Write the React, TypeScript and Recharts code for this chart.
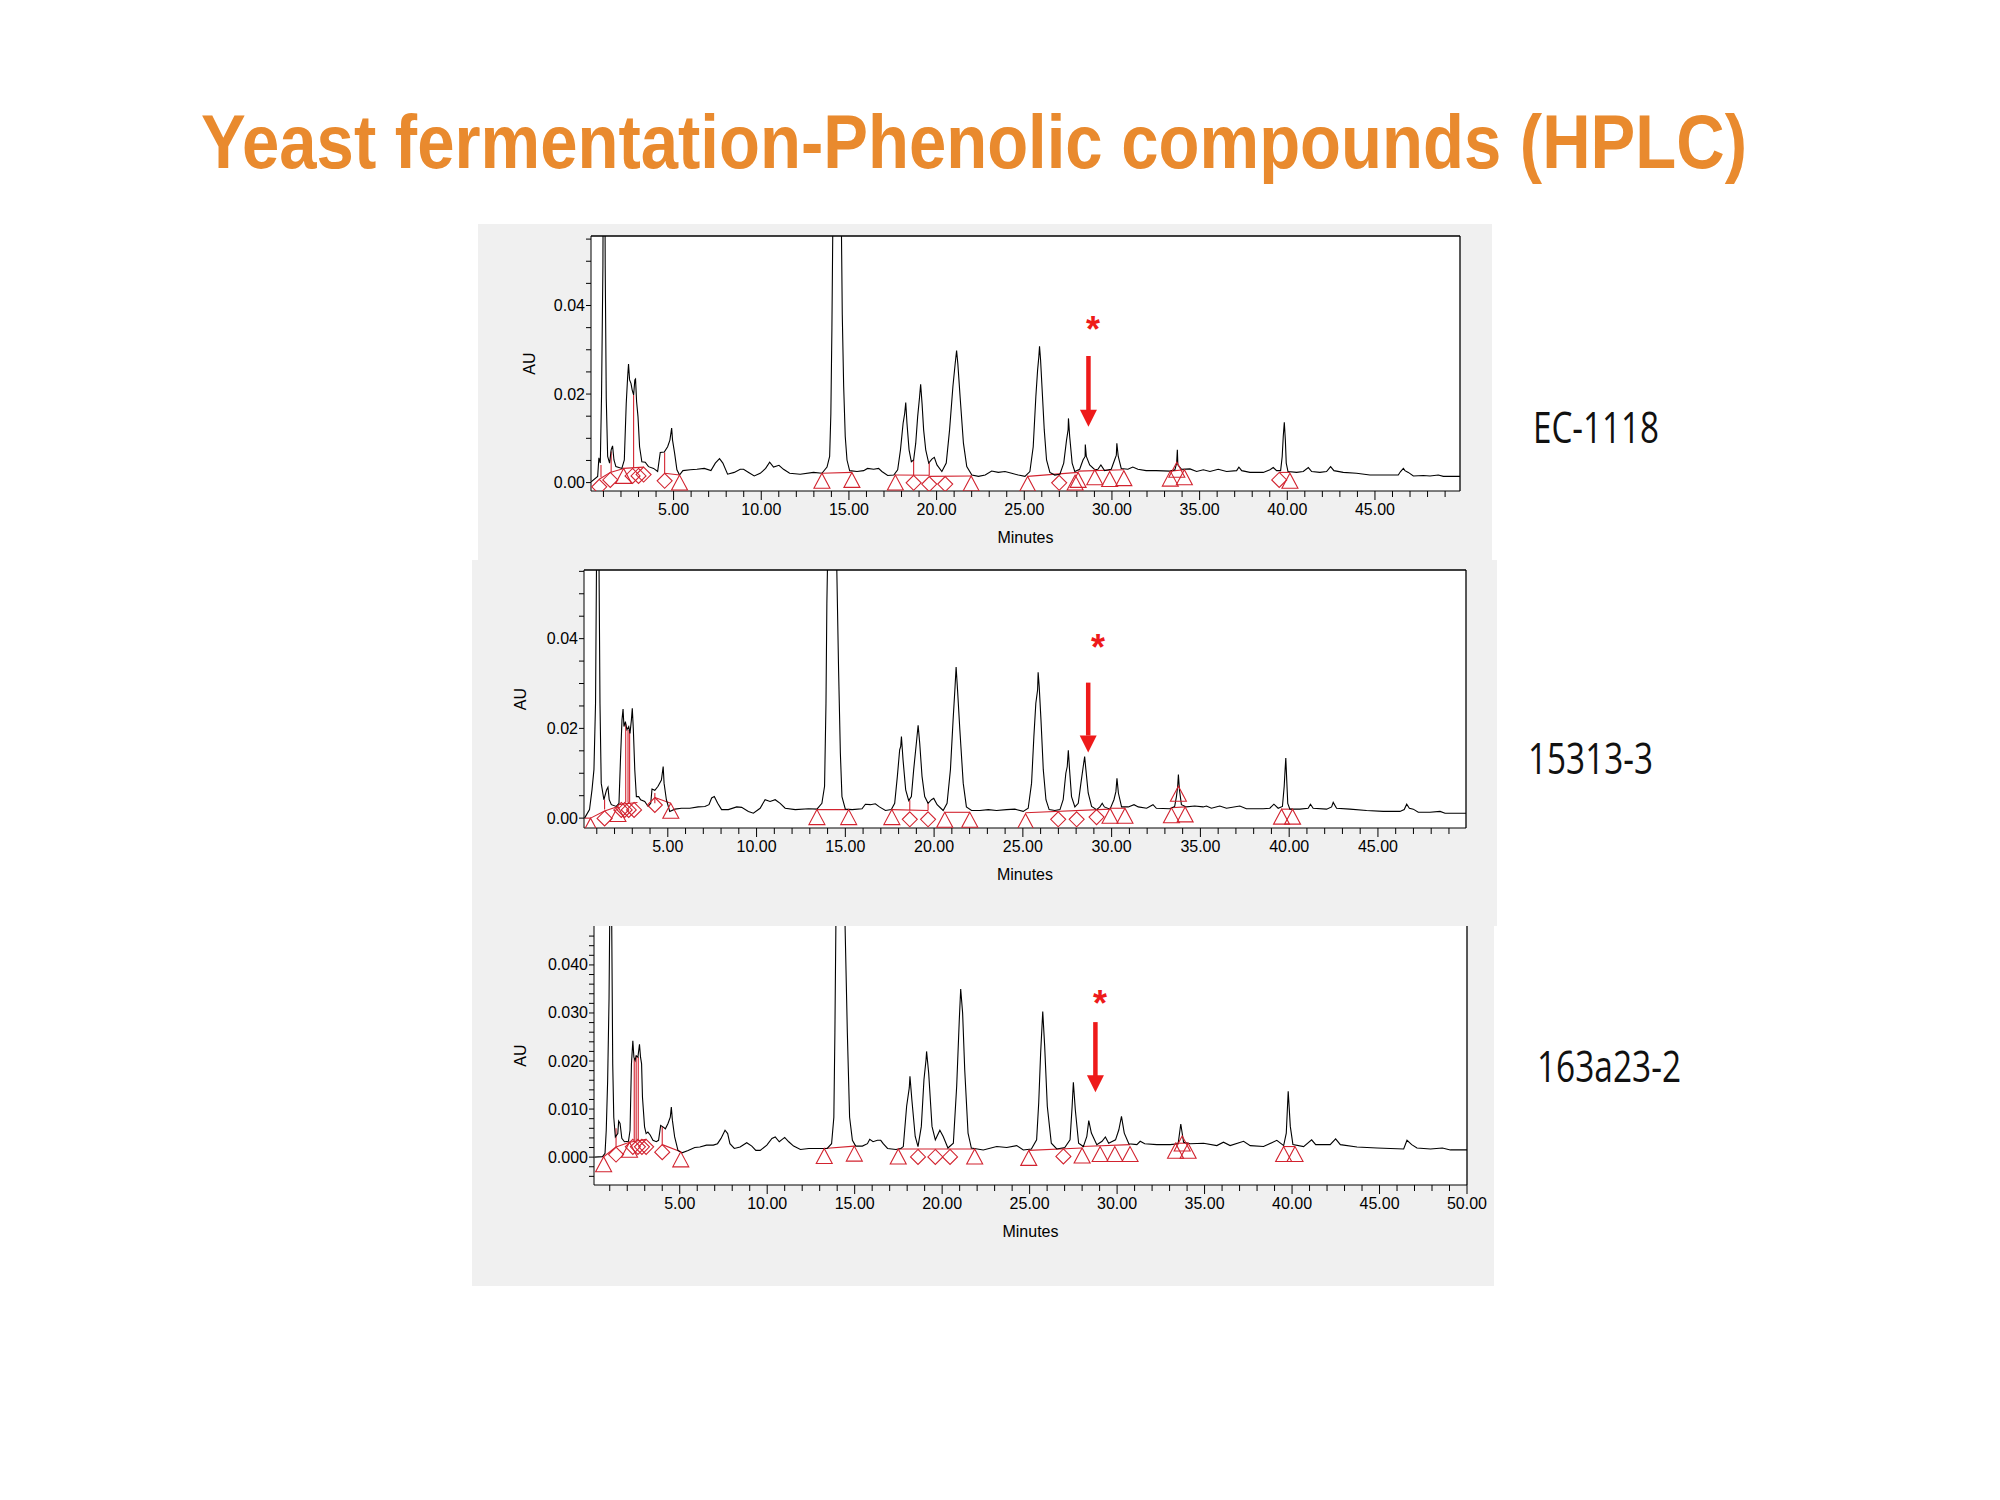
import React from 'react';
import { ComposedChart, Line, Scatter, XAxis, YAxis, ReferenceLine, CartesianGrid } from 'recharts';

type Pt = [number, number];
type Seg = [number, number, number, number];
type Drop = [number, number, number];

// values are [minutes, mAU]; the axes show AU (mAU / 1000)

// ---- EC-1118 ----
const ecTrace: Pt[] = [
  [0.3, 0.2], [0.67, 1.4], [0.74, 5.6], [0.82, 4.4], [0.89, 19.4], [0.97, 49], [1.03, 120], [1.1, 49], [1.16, 19], [1.24, 5.9],
  [1.35, 4.4], [1.44, 7.4], [1.52, 8.3], [1.6, 5.1], [1.71, 3.6], [2.05, 3.2], [2.19, 5.1], [2.3, 17.9], [2.38, 23.9], [2.43, 26.8],
  [2.49, 23.2], [2.57, 22.4], [2.64, 20.9], [2.72, 19.8], [2.79, 23.2], [2.83, 23.4], [2.89, 18.3], [2.97, 14.9], [3.06, 8.1], [3.19, 4.7],
  [3.38, 4.6], [3.57, 3.6], [3.86, 3.2], [4.09, 2.5], [4.24, 6.8], [4.47, 6.9], [4.66, 8.1], [4.79, 9.6], [4.89, 12.3], [4.94, 9.6],
  [5.06, 6.6], [5.19, 2.9], [5.34, 1.7], [5.53, 2.7], [5.95, 2.9], [6.33, 3.0], [6.75, 3.2], [7.13, 2.7], [7.38, 4.4], [7.62, 5.4],
  [7.81, 4.4], [8.08, 1.9], [8.46, 2.3], [8.8, 3.0], [8.99, 3.0], [9.28, 2.3], [9.6, 1.5], [9.94, 2.1], [10.25, 3.2], [10.48, 4.6],
  [10.7, 3.5], [11.01, 3.9], [11.27, 3.0], [11.62, 2.1], [12.22, 1.9], [12.98, 2.3], [13.46, 2.1], [13.75, 3.5], [13.9, 5.9], [13.97, 15.6],
  [14.03, 35], [14.09, 62], [14.32, 130], [14.56, 62], [14.62, 38], [14.7, 21.7], [14.79, 10.4], [14.89, 5.1], [15.04, 2.7], [15.46, 2.5],
  [15.84, 2.7], [16.06, 3.2], [16.41, 3.0], [16.69, 3.2], [16.88, 2.5], [17.21, 1.6], [17.56, 1.7], [17.78, 2.9], [17.94, 7.4], [18.09, 13.4],
  [18.18, 15.6], [18.24, 18.1], [18.31, 13.4], [18.43, 7.4], [18.56, 4.7], [18.69, 5.1], [18.81, 8.9], [18.92, 14.9], [19.03, 19.4], [19.09, 22.2],
  [19.17, 17.9], [19.26, 11.9], [19.38, 7.4], [19.55, 4.4], [19.73, 5.3], [19.87, 5.7], [20.02, 4.0], [20.3, 2.5], [20.55, 4.4], [20.74, 11.9],
  [20.93, 21.7], [21.06, 26.9], [21.14, 29.8], [21.21, 26.9], [21.34, 19.4], [21.53, 8.9], [21.72, 3.6], [22.01, 1.7], [22.39, 1.4], [22.77, 1.7],
  [23.14, 2.6], [23.52, 2.3], [23.9, 2.5], [24.28, 2.1], [24.66, 1.7], [25.04, 1.4], [25.32, 2.5], [25.51, 8.1], [25.66, 19.4], [25.76, 25.4],
  [25.83, 28.4], [25.87, 30.8], [25.93, 27.7], [26.02, 20.9], [26.14, 11.9], [26.27, 5.1], [26.46, 2.3], [26.74, 1.7], [27.03, 1.9], [27.25, 4.4],
  [27.41, 9.6], [27.5, 11.9], [27.52, 14.5], [27.59, 10.4], [27.73, 4.4], [27.88, 2.5], [28.16, 3.0], [28.35, 5.1], [28.47, 5.9], [28.48, 8.6],
  [28.54, 5.9], [28.73, 4.0], [29.02, 2.9], [29.2, 3.0], [29.37, 4.0], [29.58, 2.7], [29.96, 3.0], [30.15, 5.1], [30.25, 6.2], [30.28, 8.9],
  [30.36, 5.9], [30.53, 3.2], [30.91, 3.0], [31.19, 3.5], [31.48, 3.0], [31.95, 2.7], [32.52, 2.7], [33.31, 2.6], [33.59, 2.9], [33.69, 4.4],
  [33.73, 7.4], [33.76, 4.0], [33.97, 3.0], [34.45, 3.1], [34.83, 2.5], [35.21, 2.9], [35.59, 2.5], [36.06, 3.0], [36.54, 2.5], [37.11, 2.7],
  [37.24, 3.5], [37.4, 2.7], [37.87, 2.3], [38.63, 2.3], [39.01, 2.9], [39.2, 3.4], [39.39, 2.7], [39.62, 2.7], [39.71, 5.9], [39.77, 10.4],
  [39.83, 13.6], [39.89, 9.6], [39.94, 4.4], [40.04, 2.5], [40.53, 2.3], [40.91, 2.5], [41.2, 3.4], [41.39, 2.5], [41.86, 2.3], [42.24, 2.5],
  [42.47, 3.6], [42.66, 2.7], [43.19, 2.3], [43.95, 2.1], [44.71, 1.7], [45.48, 1.7], [46.33, 1.7], [46.46, 2.5], [46.62, 3.2], [46.71, 2.7],
  [46.9, 2.3], [47.19, 1.5], [47.76, 1.6], [48.14, 1.5], [48.61, 1.7], [48.9, 1.4], [49.85, 1.4],
];
const ecTriangles: Pt[] = [
  [2.15, 3.2], [5.34, 1.7], [13.46, 2.1], [15.17, 2.3], [17.65, 1.7], [21.97, 1.5], [25.19, 1.4], [27.9, 1.7],
  [28.07, 2.3], [29.02, 2.9], [29.87, 2.5], [30.68, 2.7], [33.33, 2.6], [33.7, 4.6], [34.13, 2.9], [40.15, 2.1],
];
const ecDiamonds: Pt[] = [
  [0.76, 0.75], [1.39, 2.3], [2.66, 3.2], [3.0, 3.2], [3.29, 3.5], [4.49, 2.1], [18.69, 1.65], [19.58, 1.35],
  [20.49, 1.35], [26.99, 1.65], [39.54, 2.3],
];
const ecBaselines: Seg[] = [
  [0.76, 0.75, 1.39, 2.3], [1.39, 2.3, 2.15, 3.2], [2.15, 3.2, 3.29, 3.5], [4.49, 2.1, 5.34, 1.7], [13.46, 2.1, 15.17, 2.3],
  [17.65, 1.7, 19.58, 1.65], [19.58, 1.4, 21.97, 1.5], [25.19, 1.4, 28.07, 2.3], [28.07, 2.6, 30.68, 2.9], [33.33, 2.6, 34.13, 2.9],
  [39.54, 2.3, 40.15, 2.3],
];
const ecDrops: Drop[] = [[0.86, 1.2, 4.0], [1.44, 2.4, 7.0], [2.72, 3.3, 19.8], [4.49, 2.1, 6.8], [18.69, 1.65, 5.1], [19.58, 1.6, 4.4]];
const ecArrow = { t: 28.66, top: 28.6, neck: 16.4, tip: 12.6 };
const ecStar: Pt = [28.92, 36.3];

// ---- 15313-3 ----
const s15Trace: Pt[] = [
  [0.31, 0], [0.59, 1.9], [0.73, 6.3], [0.84, 10.8], [0.93, 25.6], [0.99, 60], [1.05, 110], [1.12, 60], [1.18, 25.6], [1.25, 7.8],
  [1.4, 4.1], [1.55, 6.3], [1.63, 6.9], [1.7, 4.1], [1.82, 3.0], [2.1, 2.6], [2.25, 3.3], [2.34, 13.7], [2.42, 21.9], [2.48, 24.3],
  [2.53, 20.4], [2.61, 21.5], [2.7, 19.7], [2.8, 20.4], [2.87, 18.9], [2.95, 21.9], [3.0, 24.5], [3.06, 19.7], [3.14, 10.8], [3.23, 4.8],
  [3.36, 4.8], [3.47, 4.1], [3.7, 3.7], [3.89, 2.6], [4.04, 3.3], [4.11, 6.5], [4.27, 6.2], [4.45, 7.1], [4.64, 8.5], [4.74, 11.5],
  [4.79, 7.8], [4.92, 4.1], [5.11, 1.5], [5.4, 2.0], [5.77, 2.2], [6.24, 2.2], [6.71, 2.5], [7.09, 2.6], [7.32, 3.0], [7.47, 4.5],
  [7.62, 4.8], [7.81, 3.3], [8.03, 1.9], [8.41, 1.9], [8.88, 2.5], [9.16, 2.4], [9.54, 1.5], [9.82, 1.1], [10.2, 2.2], [10.48, 4.1],
  [10.76, 3.7], [11.05, 4.1], [11.33, 3.3], [11.61, 2.2], [12.18, 1.9], [12.93, 2.1], [13.4, 2.0], [13.68, 3.3], [13.83, 7.1], [13.91, 25.6],
  [13.96, 47.9], [14.02, 62], [14.27, 130], [14.49, 62], [14.62, 33], [14.72, 14.5], [14.81, 4.8], [15.0, 2.0], [15.38, 1.9], [15.94, 2.1],
  [16.13, 3.1], [16.41, 3.0], [16.69, 3.2], [16.92, 2.5], [17.26, 1.7], [17.59, 1.9], [17.78, 3.3], [17.93, 9.3], [18.06, 15.2], [18.12, 16.0],
  [18.16, 18.2], [18.25, 13.0], [18.4, 6.3], [18.57, 3.9], [18.72, 4.8], [18.85, 10.8], [19.0, 16.7], [19.1, 20.7], [19.19, 16.7], [19.32, 9.3],
  [19.47, 4.8], [19.66, 3.3], [19.85, 4.1], [19.98, 4.4], [20.17, 3.0], [20.51, 1.7], [20.73, 3.3], [20.92, 10.8], [21.07, 21.9], [21.18, 29.3],
  [21.24, 33.7], [21.32, 28.6], [21.45, 19.7], [21.64, 7.8], [21.82, 2.5], [22.11, 1.7], [22.58, 1.7], [23.05, 1.9], [23.52, 1.7], [24.08, 1.9],
  [24.55, 2.0], [25.02, 1.5], [25.3, 2.2], [25.49, 7.8], [25.62, 18.2], [25.73, 25.6], [25.83, 28.6], [25.86, 32.5], [25.92, 29.3], [26.02, 21.9],
  [26.15, 10.8], [26.3, 4.1], [26.48, 1.9], [26.8, 1.7], [27.09, 1.9], [27.27, 4.1], [27.42, 10.0], [27.5, 11.5], [27.56, 15.1], [27.63, 10.8],
  [27.74, 4.8], [27.93, 2.5], [28.12, 3.3], [28.27, 7.8], [28.4, 11.5], [28.48, 13.7], [28.55, 10.8], [28.68, 5.6], [28.87, 2.6], [29.15, 1.9],
  [29.34, 2.5], [29.47, 3.3], [29.59, 2.5], [29.91, 2.0], [30.13, 4.1], [30.24, 5.9], [30.3, 8.9], [30.38, 5.6], [30.56, 2.5], [30.94, 2.5],
  [31.26, 3.0], [31.5, 2.5], [31.97, 2.2], [32.33, 3.0], [32.52, 2.2], [33.27, 2.1], [33.55, 2.6], [33.65, 4.8], [33.72, 7.1], [33.76, 9.7],
  [33.82, 6.3], [33.93, 3.0], [34.21, 2.5], [34.68, 2.7], [35.15, 2.5], [35.34, 2.7], [35.62, 2.2], [36.09, 2.7], [36.47, 2.2], [37.22, 2.7],
  [37.59, 2.1], [38.53, 2.1], [38.91, 2.2], [39.14, 3.1], [39.38, 2.2], [39.62, 2.6], [39.72, 7.1], [39.77, 10.8], [39.81, 13.4], [39.87, 7.8],
  [39.92, 3.3], [40.04, 2.0], [40.6, 2.0], [41.07, 2.2], [41.2, 3.1], [41.35, 2.2], [42.11, 2.0], [42.39, 2.5], [42.48, 3.5], [42.67, 2.2],
  [43.42, 2.0], [44.36, 1.7], [45.3, 1.5], [46.24, 1.5], [46.48, 1.9], [46.62, 3.1], [46.77, 2.2], [46.99, 2.0], [47.27, 1.3], [47.93, 1.3],
  [48.5, 1.5], [48.78, 1.1], [49.96, 1.1],
];
const s15Triangles: Pt[] = [
  [0.65, 0], [2.19, 2.6], [5.17, 3.3], [13.4, 1.9], [15.19, 1.9], [17.62, 1.9], [20.6, 1.3], [22.01, 1.3], [25.15, 1.0],
  [29.91, 2.2], [30.75, 2.2], [33.37, 2.3], [33.76, 7.1], [34.14, 2.5], [39.57, 2.0], [40.19, 2.0],
];
const s15Diamonds: Pt[] = [
  [1.44, 1.6], [2.38, 3.5], [2.57, 3.5], [2.8, 3.5], [3.1, 3.5], [4.27, 4.6], [18.63, 1.4], [19.66, 1.4], [26.99, 1.4],
  [28.03, 1.4], [29.15, 1.9],
];
const s15Baselines: Seg[] = [
  [0.3, 0, 0.65, 0], [0.65, 0, 1.44, 1.6], [1.44, 1.6, 2.19, 2.6], [2.19, 3.0, 3.29, 3.5], [4.27, 4.6, 5.17, 3.3],
  [13.4, 1.9, 15.19, 1.9], [17.62, 1.9, 19.66, 1.7], [20.6, 1.3, 22.01, 1.3], [25.15, 1.2, 29.91, 2.0], [29.91, 2.2, 30.75, 2.2],
  [33.37, 2.3, 34.14, 2.5], [39.57, 2.0, 40.19, 2.0],
];
const s15Drops: Drop[] = [[1.44, 1.9, 4.1], [2.63, 3.5, 21], [2.76, 3.5, 19.7], [2.85, 3.5, 19.2], [4.27, 3.3, 5.6], [18.63, 1.7, 4.0], [19.66, 1.7, 3.3]];
const s15Arrow = { t: 28.68, top: 30.2, neck: 18.4, tip: 14.6 };
const s15Star: Pt = [29.23, 39.7];

// ---- 163a23-2 ----
const s163Trace: Pt[] = [
  [0.12, 0.0], [0.59, 0.1], [0.73, 0.8], [0.8, 5.6], [0.88, 15.9], [0.96, 33], [1.0, 50], [1.05, 100], [1.11, 50], [1.17, 19.4],
  [1.23, 8.3], [1.32, 4.2], [1.46, 4.9], [1.51, 7.5], [1.59, 7.0], [1.69, 3.9], [1.84, 3.2], [2.07, 3.3], [2.16, 5.6], [2.24, 19.4],
  [2.32, 24.2], [2.38, 20.8], [2.45, 20.1], [2.51, 21.1], [2.61, 20.8], [2.7, 23.5], [2.76, 20.8], [2.82, 19.4], [2.87, 12.5], [2.99, 6.3],
  [3.08, 4.9], [3.18, 5.2], [3.31, 4.6], [3.47, 3.5], [3.66, 3.2], [3.79, 3.5], [3.91, 6.6], [4.04, 6.3], [4.18, 5.9], [4.33, 7.0],
  [4.46, 8.3], [4.52, 10.4], [4.58, 7.7], [4.71, 4.2], [4.9, 1.4], [5.13, 0.9], [5.48, 1.4], [5.86, 2.0], [6.15, 2.1], [6.53, 2.5],
  [6.92, 2.5], [7.16, 2.8], [7.36, 3.9], [7.59, 5.6], [7.74, 4.9], [7.87, 2.8], [8.12, 1.8], [8.45, 2.1], [8.83, 3.0], [9.12, 2.3],
  [9.35, 1.4], [9.6, 1.4], [9.98, 2.5], [10.27, 3.9], [10.46, 4.2], [10.69, 3.2], [11.0, 4.1], [11.23, 3.2], [11.51, 2.3], [11.9, 1.6],
  [12.38, 1.8], [12.95, 1.8], [13.43, 1.8], [13.68, 2.8], [13.81, 8.3], [13.87, 26], [13.93, 50], [14.2, 130], [14.44, 50], [14.58, 26],
  [14.71, 8.3], [14.87, 3.5], [15.06, 2.3], [15.44, 2.3], [15.73, 2.8], [15.86, 3.7], [16.05, 3.2], [16.3, 3.5], [16.49, 3.5], [16.63, 2.8],
  [16.88, 1.8], [17.36, 1.6], [17.64, 1.8], [17.78, 2.2], [17.97, 10.6], [18.12, 14.4], [18.16, 16.8], [18.27, 11.9], [18.46, 4.3], [18.62, 2.2],
  [18.81, 6.4], [18.96, 16.1], [19.08, 20.3], [19.11, 22], [19.23, 17.5], [19.42, 6.4], [19.61, 3.6], [19.87, 5.6], [20.06, 4.3], [20.33, 1.9],
  [20.64, 2.9], [20.83, 14.7], [20.98, 28.6], [21.06, 35], [21.17, 30], [21.29, 18.2], [21.48, 5.0], [21.67, 1.9], [22.35, 1.5], [23.12, 2.2],
  [23.69, 2.0], [24.26, 2.4], [24.64, 1.5], [25.1, 1.7], [25.4, 3.6], [25.52, 11.3], [25.63, 21.7], [25.75, 30.3], [25.86, 23.1], [26.01, 10.6],
  [26.24, 2.9], [26.55, 1.7], [27.01, 2.0], [27.31, 3.6], [27.43, 10.6], [27.5, 15.6], [27.61, 9.9], [27.8, 2.9], [28.07, 2.2], [28.27, 4.3],
  [28.38, 7.6], [28.53, 5.0], [28.84, 2.6], [29.14, 3.3], [29.33, 4.2], [29.52, 2.9], [29.91, 3.6], [30.1, 5.7], [30.25, 8.5], [30.41, 5.0],
  [30.67, 2.8], [31.13, 2.6], [31.32, 3.3], [31.58, 2.8], [32.27, 2.6], [33.03, 2.6], [33.49, 2.8], [33.64, 6.9], [33.8, 3.1], [34.18, 2.8],
  [34.94, 2.9], [35.7, 2.4], [36.08, 3.1], [36.46, 2.4], [37.23, 3.3], [37.61, 2.4], [38.37, 2.2], [39.13, 3.5], [39.52, 2.4], [39.67, 5.0],
  [39.78, 13.7], [39.9, 6.4], [40.05, 2.6], [40.66, 2.2], [41.12, 3.6], [41.35, 2.6], [42.18, 2.6], [42.49, 3.8], [42.76, 2.6], [43.71, 2.1],
  [44.86, 1.9], [46.38, 1.7], [46.57, 3.5], [46.84, 2.6], [47.14, 1.9], [47.91, 1.7], [48.59, 1.9], [49.05, 1.5], [50.0, 1.5],
];
const s163Triangles: Pt[] = [
  [0.65, 0.07], [2.13, 3.1], [5.06, 1.1], [13.26, 1.8], [14.98, 2.3], [17.49, 1.7], [21.86, 1.7], [24.95, 1.4], [28.0, 1.9],
  [29.03, 2.2], [29.87, 2.2], [30.74, 2.2], [33.34, 2.9], [33.72, 4.4], [34.06, 2.9], [39.52, 2.2], [40.17, 2.2],
];
const s163Diamonds: Pt[] = [
  [1.36, 2.1], [2.32, 3.7], [2.61, 3.7], [2.84, 3.7], [3.08, 3.7], [4.0, 2.6], [18.62, 1.6], [19.61, 1.6], [20.45, 1.6], [26.93, 1.7],
];
const s163Baselines: Seg[] = [
  [0.65, 0.07, 1.36, 2.1], [1.36, 2.1, 2.13, 3.1], [2.13, 3.1, 3.08, 3.7], [4.0, 2.6, 5.06, 1.1], [13.26, 1.8, 14.98, 2.3],
  [17.49, 1.7, 21.86, 1.7], [24.95, 1.4, 28.0, 1.9], [28.0, 2.2, 30.74, 2.6], [33.34, 2.9, 34.06, 2.9], [39.52, 2.2, 40.17, 2.2],
];
const s163Drops: Drop[] = [[1.36, 2.1, 6.0], [2.4, 3.5, 20.5], [2.51, 3.5, 21.1], [2.63, 3.5, 20.8], [4.0, 2.6, 6.3]];
const s163Arrow = { t: 28.76, top: 28.1, neck: 16.8, tip: 13.5 };
const s163Star: Pt = [29.03, 33.6];

const sampleNames = ['EC-1118', '15313-3', '163a23-2'];

const minuteTicks = [1, 2, 3, 4, 5, 6, 7, 8, 9, 10, 11, 12, 13, 14, 15, 16, 17, 18, 19, 20, 21, 22, 23, 24, 25,
  26, 27, 28, 29, 30, 31, 32, 33, 34, 35, 36, 37, 38, 39, 40, 41, 42, 43, 44, 45, 46, 47, 48, 49];
const minuteTicksTo50 = [...minuteTicks, 50];
const auTicks = [0, 5, 10, 15, 20, 25, 30, 35, 40, 45, 50, 55];
const auTicksFine = [-4, -2, 0, 2, 4, 6, 8, 10, 12, 14, 16, 18, 20, 22, 24, 26, 28, 30, 32, 34, 36, 38, 40, 42, 44, 46];

const MARK = '#D2232F';
const ARROW = '#EE1A1A';
const AXIS_FONT = '"Liberation Sans", Arial, sans-serif';

function MinuteTick(props: any) {
  const { x, y, payload } = props;
  const v = payload.value;
  const major = v % 5 === 0;
  return (
    <g>
      <line x1={x} y1={y} x2={x} y2={y + (major ? 9 : 6)} stroke="#000" />
      {major && (
        <text x={x} y={y + 24} textAnchor="middle" fontSize={16} fontFamily={AXIS_FONT} fill="#000">
          {v.toFixed(2)}
        </text>
      )}
    </g>
  );
}

function AuTick(props: any) {
  const { x, y, payload, step, digits } = props;
  const v = payload.value;
  const labelled = Math.abs(v % step) < 1e-6;
  return (
    <g>
      <line x1={x - 5} y1={y} x2={x} y2={y} stroke="#000" />
      {labelled && (
        <text x={x - 6} y={y + 5.5} textAnchor="end" fontSize={16} fontFamily={AXIS_FONT} fill="#000">
          {(v / 1000).toFixed(digits)}
        </text>
      )}
    </g>
  );
}

const triangleShape = (p: any) => (
  <polygon points={`${p.cx},${p.cy} ${p.cx - 8},${p.cy + 15} ${p.cx + 8},${p.cy + 15}`} fill="none" stroke={MARK} strokeWidth={1.1} />
);
const diamondShape = (p: any) => (
  <polygon points={`${p.cx},${p.cy} ${p.cx + 7.5},${p.cy + 7.5} ${p.cx},${p.cy + 15} ${p.cx - 7.5},${p.cy + 7.5}`} fill="none" stroke={MARK} strokeWidth={1.1} />
);
const arrowHeadShape = (p: any) => (
  <polygon points={`${p.cx - 8.5},${p.cy - 17} ${p.cx + 8.5},${p.cy - 17} ${p.cx},${p.cy}`} fill={ARROW} />
);
const starShape = (p: any) => (
  <text x={p.cx} y={p.cy + 20} textAnchor="middle" fontSize={36} fontWeight="bold" fontFamily={AXIS_FONT} fill={ARROW}>*</text>
);

interface Spec {
  left: number; top: number; width: number; height: number;
  mTop: number; mRight: number; yAxisWidth: number; xAxisHeight: number;
  xDomain: [number, number]; yDomain: [number, number];
  xTicks: number[]; yTicks: number[]; labelStep: number; digits: number;
  auGap: number; topBorder: boolean;
  trace: Pt[]; triangles: Pt[]; diamonds: Pt[]; baselines: Seg[]; drops: Drop[];
  arrow: { t: number; top: number; neck: number; tip: number }; star: Pt;
}

const toRows = (pts: Pt[]) => pts.map(([t, v]) => ({ t, v }));

function Chromatogram({ spec }: { spec: Spec }) {
  const minutesLabel = (p: any) => {
    const vb = p.viewBox || { x: 0, y: 0, width: 0 };
    return (
      <text x={vb.x + vb.width / 2} y={vb.y + 52} textAnchor="middle" fontSize={16} fontFamily={AXIS_FONT} fill="#000">
        Minutes
      </text>
    );
  };
  const auLabel = (p: any) => {
    const vb = p.viewBox || { x: 0, y: 0, width: 0, height: 0 };
    const cx = vb.x + vb.width - spec.auGap;
    const cy = vb.y + vb.height / 2;
    return (
      <text x={cx} y={cy + 6} transform={`rotate(-90 ${cx} ${cy})`} textAnchor="middle" fontSize={16} fontFamily={AXIS_FONT} fill="#000">
        AU
      </text>
    );
  };

  return (
    <div style={{ position: 'absolute', left: spec.left, top: spec.top }}>
      <ComposedChart
        width={spec.width}
        height={spec.height}
        margin={{ top: spec.mTop, right: spec.mRight, left: 0, bottom: 0 }}
      >
        <CartesianGrid horizontal={false} vertical={false} fill="#fff" />
        <XAxis
          type="number"
          dataKey="t"
          domain={spec.xDomain}
          allowDataOverflow
          ticks={spec.xTicks}
          interval={0}
          height={spec.xAxisHeight}
          stroke="#000"
          tickLine={false}
          tickSize={0}
          tickMargin={0}
          tick={<MinuteTick />}
          label={minutesLabel}
        />
        <YAxis
          type="number"
          domain={spec.yDomain}
          allowDataOverflow
          ticks={spec.yTicks}
          interval={0}
          width={spec.yAxisWidth}
          stroke="#000"
          tickLine={false}
          tickSize={0}
          tickMargin={0}
          tick={<AuTick step={spec.labelStep} digits={spec.digits} />}
          label={auLabel}
        />
        {spec.topBorder && <ReferenceLine y={spec.yDomain[1]} stroke="#000" strokeWidth={1.3} />}
        <ReferenceLine x={spec.xDomain[1]} stroke="#000" strokeWidth={1.3} />

        {spec.baselines.map(([t1, v1, t2, v2], i) => (
          <ReferenceLine key={`b${i}`} segment={[{ x: t1, y: v1 }, { x: t2, y: v2 }]} stroke={MARK} strokeWidth={1.1} />
        ))}
        {spec.drops.map(([t, lo, hi], i) => (
          <ReferenceLine key={`d${i}`} segment={[{ x: t, y: lo }, { x: t, y: hi }]} stroke={MARK} strokeWidth={1.1} />
        ))}

        <Line
          data={toRows(spec.trace)}
          dataKey="v"
          type="linear"
          stroke="#000"
          strokeWidth={1.1}
          dot={false}
          activeDot={false}
          isAnimationActive={false}
        />
        <Scatter data={toRows(spec.triangles)} dataKey="v" shape={triangleShape} isAnimationActive={false} />
        <Scatter data={toRows(spec.diamonds)} dataKey="v" shape={diamondShape} isAnimationActive={false} />

        <ReferenceLine
          segment={[{ x: spec.arrow.t, y: spec.arrow.top }, { x: spec.arrow.t, y: spec.arrow.neck }]}
          stroke={ARROW}
          strokeWidth={4.5}
        />
        <Scatter data={[{ t: spec.arrow.t, v: spec.arrow.tip }]} dataKey="v" shape={arrowHeadShape} isAnimationActive={false} />
        <Scatter data={[{ t: spec.star[0], v: spec.star[1] }]} dataKey="v" shape={starShape} isAnimationActive={false} />
      </ComposedChart>
    </div>
  );
}

const panels = [
  { left: 478, top: 224, width: 1014, height: 336 },
  { left: 472, top: 560, width: 1025, height: 366 },
  { left: 472, top: 926, width: 1022, height: 360 },
];

const specs: Spec[] = [
  {
    left: 478, top: 224, width: 1014, height: 336, mTop: 12, mRight: 32, yAxisWidth: 113, xAxisHeight: 69,
    xDomain: [0.29, 49.85], yDomain: [-1.9, 55.7], xTicks: minuteTicks, yTicks: auTicks, labelStep: 20, digits: 2,
    auGap: 62, topBorder: true,
    trace: ecTrace, triangles: ecTriangles, diamonds: ecDiamonds, baselines: ecBaselines, drops: ecDrops,
    arrow: ecArrow, star: ecStar,
  },
  {
    left: 472, top: 560, width: 1025, height: 366, mTop: 10, mRight: 31, yAxisWidth: 112, xAxisHeight: 98,
    xDomain: [0.28, 49.96], yDomain: [-2.2, 55.3], xTicks: minuteTicks, yTicks: auTicks, labelStep: 20, digits: 2,
    auGap: 64, topBorder: true,
    trace: s15Trace, triangles: s15Triangles, diamonds: s15Diamonds, baselines: s15Baselines, drops: s15Drops,
    arrow: s15Arrow, star: s15Star,
  },
  {
    left: 472, top: 926, width: 1022, height: 360, mTop: 0, mRight: 27, yAxisWidth: 122, xAxisHeight: 101,
    xDomain: [0.1, 50], yDomain: [-5.8, 48.1], xTicks: minuteTicksTo50, yTicks: auTicksFine, labelStep: 10, digits: 3,
    auGap: 74, topBorder: false,
    trace: s163Trace, triangles: s163Triangles, diamonds: s163Diamonds, baselines: s163Baselines, drops: s163Drops,
    arrow: s163Arrow, star: s163Star,
  },
];

const nameSpots = [
  { x: 1533, y: 443, w: 126 },
  { x: 1528, y: 774, w: 125 },
  { x: 1537, y: 1082, w: 144 },
];

export default function App() {
  return (
    <div style={{ position: 'absolute', left: 0, top: 0, width: 2000, height: 1500, background: '#fff', overflow: 'hidden' }}>
      {panels.map((p, i) => (
        <div key={i} style={{ position: 'absolute', left: p.left, top: p.top, width: p.width, height: p.height, background: '#F0F0F0' }} />
      ))}
      {specs.map((s, i) => (
        <Chromatogram key={i} spec={s} />
      ))}
      <svg width={2000} height={1500} style={{ position: 'absolute', left: 0, top: 0, pointerEvents: 'none' }}>
        <text
          x={201}
          y={168}
          fontSize={76}
          fontWeight="bold"
          fill="#E98A2E"
          fontFamily={AXIS_FONT}
          textLength={1546}
          lengthAdjust="spacingAndGlyphs"
        >
          Yeast fermentation-Phenolic compounds (HPLC)
        </text>
        {sampleNames.map((name, i) => (
          <text
            key={name}
            x={nameSpots[i].x}
            y={nameSpots[i].y}
            fontSize={43}
            fill="#111"
            fontFamily='"Open Sans", "Noto Sans", sans-serif'
            textLength={nameSpots[i].w}
            lengthAdjust="spacingAndGlyphs"
          >
            {name}
          </text>
        ))}
      </svg>
    </div>
  );
}
